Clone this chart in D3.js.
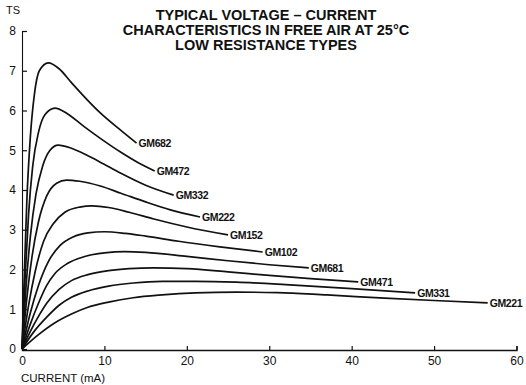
<!DOCTYPE html>
<html>
<head>
<meta charset="utf-8">
<script src="https://cdn.jsdelivr.net/npm/d3@7"></script>
<style>
  html, body { margin: 0; padding: 0; background: #fff; overflow: hidden; }
  svg { display: block; font-family: "Liberation Sans", Arial, sans-serif; }
</style>
</head>
<body>
<svg id="chart" width="526" height="385"></svg>
<script>
// Chart data: current (mA) vs voltage (V) per thermistor type
const seriesNames = ['GM682', 'GM472', 'GM332', 'GM222', 'GM152', 'GM102', 'GM681', 'GM471', 'GM331', 'GM221'];

const gm682 = [[0,0],[0.3,2.0],[0.6,3.8],[1.0,5.3],[1.5,6.4],[2.1,7.0],[3.2,7.2],[4.5,7.05],[6,6.7],[8,6.25],[9.5,5.94],[12,5.5],[13.9,5.18]];
const gm472 = [[0,0],[0.4,1.9],[0.8,3.4],[1.3,4.6],[2,5.45],[2.8,5.9],[4,6.06],[5.5,5.92],[7.5,5.6],[9.5,5.3],[12,4.95],[14,4.7],[16.1,4.48]];
const gm332 = [[0,0],[0.5,1.6],[1,2.8],[1.7,3.9],[2.5,4.6],[3.4,5.0],[4.4,5.13],[6,5.05],[8,4.86],[9.5,4.7],[12,4.42],[15,4.12],[18.4,3.87]];
const gm222 = [[0,0],[0.6,1.3],[1.2,2.3],[2,3.2],[3,3.85],[4.2,4.17],[5.4,4.25],[7,4.22],[9.5,4.1],[12,3.92],[15,3.7],[18,3.5],[21.6,3.32]];
const gm152 = [[0,0],[0.8,1.1],[1.6,1.95],[2.6,2.7],[3.8,3.15],[5.2,3.44],[7,3.57],[8.5,3.6],[10.5,3.56],[13,3.44],[16,3.27],[20,3.07],[25,2.87]];
const gm102 = [[0,0],[1,0.9],[2,1.6],[3.2,2.2],[4.6,2.6],[6.2,2.82],[8,2.92],[10,2.95],[12.5,2.91],[15,2.84],[19,2.71],[24,2.57],[29.2,2.44]];
const gm681 = [[0,0],[1,0.62],[2,1.15],[3,1.6],[4,1.9],[5.5,2.15],[7.5,2.32],[10,2.42],[12.5,2.45],[15,2.43],[20,2.33],[25,2.22],[30,2.12],[34.8,2.04]];
const gm471 = [[0,0],[1,0.44],[2,0.82],[3,1.15],[4.5,1.5],[6,1.72],[8,1.87],[10.5,1.97],[13,2.02],[16,2.04],[20,2.02],[25,1.94],[30,1.85],[35,1.77],[40.8,1.69]];
const gm331 = [[0,0],[1.5,0.45],[3,0.8],[4.5,1.1],[6,1.3],[8,1.46],[10.5,1.58],[13.5,1.66],[17,1.7],[21,1.7],[26,1.68],[32,1.62],[40,1.52],[47.7,1.41]];
const gm221 = [[0,0],[2,0.36],[4,0.66],[6,0.88],[8,1.05],[10.5,1.18],[13.5,1.29],[17,1.36],[21,1.41],[26,1.43],[31,1.42],[37,1.36],[44,1.28],[50,1.22],[56.5,1.16]];

const seriesValues = [gm682, gm472, gm332, gm222, gm152, gm102, gm681, gm471, gm331, gm221];

const xTicks = [0, 10, 20, 30, 40, 50, 60];
const yTicks = [0, 1, 2, 3, 4, 5, 6, 7, 8];
const titleLines = ['TYPICAL VOLTAGE \u2013 CURRENT', 'CHARACTERISTICS IN FREE AIR AT 25\u00B0C', 'LOW RESISTANCE TYPES'];

const svg = d3.select('#chart');

const x = d3.scaleLinear().domain([0, 60]).range([22, 516.5]);
const y = d3.scaleLinear().domain([0, 8]).range([349, 31]);

// Title
svg.append('g')
    .selectAll('text')
    .data(titleLines)
    .enter().append('text')
    .attr('x', 266)
    .attr('y', (d, i) => 20 + i * 15)
    .attr('text-anchor', 'middle')
    .attr('font-size', 14.5)
    .attr('font-weight', 'bold')
    .attr('fill', '#111')
    .text(d => d);

// Axes
const xAxis = svg.append('g')
    .attr('transform', `translate(0,${y(0) + 1})`)
    .call(d3.axisBottom(x).tickValues(xTicks).tickSize(-4).tickPadding(6).tickFormat(d3.format('d')));

const yAxis = svg.append('g')
    .attr('transform', `translate(${x(0)},0)`)
    .call(d3.axisLeft(y).tickValues(yTicks).tickSize(-5).tickPadding(6).tickFormat(d3.format('d')));

[xAxis, yAxis].forEach(a => {
    a.select('.domain').attr('stroke', '#111').attr('stroke-width', 1.4);
    a.selectAll('.tick line').attr('stroke', '#111').attr('stroke-width', 1.2);
    a.selectAll('.tick text').attr('fill', '#111').attr('font-size', 12)
        .attr('font-family', '"Liberation Sans", Arial, sans-serif');
});
yAxis.select('.domain').attr('stroke-width', 1.1);

// Axis titles
svg.append('text')
    .attr('x', 21)
    .attr('y', 382)
    .attr('font-size', 11.5)
    .attr('fill', '#111')
    .text('CURRENT (mA)');

// only the tail of the voltage label is visible in the scan
svg.append('text')
    .attr('x', 20)
    .attr('y', 14)
    .attr('text-anchor', 'end')
    .attr('font-size', 11)
    .attr('fill', '#111')
    .text('TS');

// Curves
const line = d3.line()
    .x(d => x(d[0]))
    .y(d => y(d[1]))
    .curve(d3.curveMonotoneX);

svg.append('g')
    .selectAll('path')
    .data(seriesValues)
    .enter().append('path')
    .attr('d', line)
    .attr('fill', 'none')
    .attr('stroke', '#111')
    .attr('stroke-width', 1.7);

// End labels
svg.append('g')
    .selectAll('text')
    .data(seriesValues)
    .enter().append('text')
    .attr('x', d => x(d[d.length - 1][0]) + 2)
    .attr('y', d => y(d[d.length - 1][1]) + 4)
    .attr('font-size', 10.5)
    .attr('font-weight', 'bold')
    .attr('letter-spacing', -0.4)
    .attr('fill', '#111')
    .text((d, i) => seriesNames[i]);
</script>
</body>
</html>
